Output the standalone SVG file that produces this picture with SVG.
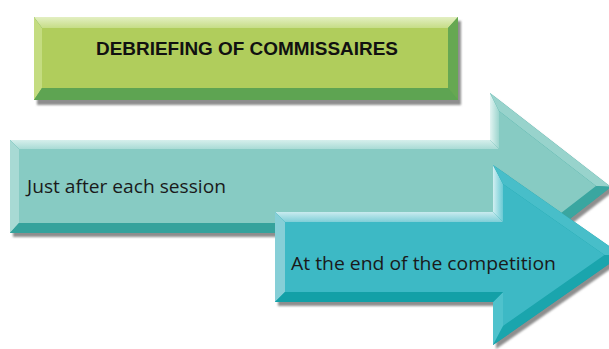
<svg xmlns="http://www.w3.org/2000/svg" width="609" height="349" viewBox="0 0 609 349">
  <defs>
    <filter id="soft" x="-5%" y="-5%" width="110%" height="110%">
      <feGaussianBlur stdDeviation="1"/>
    </filter>
    <linearGradient id="gTop" x1="0" y1="0" x2="0" y2="1">
      <stop offset="0" stop-color="#E3EFC2"/>
      <stop offset="1" stop-color="#C6DD87"/>
    </linearGradient>
    <linearGradient id="a1Top" x1="0" y1="0" x2="0" y2="1">
      <stop offset="0" stop-color="#D6EFEC"/>
      <stop offset="1" stop-color="#A9DBD5"/>
    </linearGradient>
    <linearGradient id="a1Notch" x1="0" y1="0" x2="1" y2="0">
      <stop offset="0" stop-color="#E2F4F2"/>
      <stop offset="1" stop-color="#9CD5CE"/>
    </linearGradient>
    <linearGradient id="a2Top" x1="0" y1="0" x2="0" y2="1">
      <stop offset="0" stop-color="#C9EBEF"/>
      <stop offset="1" stop-color="#7FCFD8"/>
    </linearGradient>
    <linearGradient id="a2Notch" x1="0" y1="0" x2="1" y2="0">
      <stop offset="0" stop-color="#D2EFF2"/>
      <stop offset="1" stop-color="#6ACAD4"/>
    </linearGradient>
    <style>
      .shadow { fill: #8E8E8E; }
      .title { font-family: "Liberation Sans", Arial, sans-serif; font-weight: bold; font-size: 19px; fill: #111111; }
      .label { font-family: "Open Sans", "Noto Sans", sans-serif; font-size: 19px; fill: #1A1A1A; }
    </style>
  </defs>

  <g id="node-title">
    <rect class="shadow" x="37" y="21" width="424" height="84" filter="url(#soft)"/>
    <rect x="34" y="17" width="424" height="83" fill="#5FA553"/>
    <polygon points="34,17 458,17 448,28 42,28" fill="url(#gTop)"/>
    <polygon points="34,17 42,28 42,88 34,100" fill="#C4DC80"/>
    <polygon points="458,17 458,100 448,88 448,28" fill="#66A852"/>
    <polygon points="34,100 458,100 448,88 42,88" fill="#5EA452"/>
    <rect x="42" y="28" width="406" height="60" fill="#B0CD5C"/>
    <text class="title" x="96" y="55" textLength="302" lengthAdjust="spacingAndGlyphs">DEBRIEFING OF COMMISSAIRES</text>
  </g>

  <g id="node-arrow1">
    <polygon class="shadow" points="13,144 493,144 493,97 614,191 493,285 493,237 13,237" filter="url(#soft)"/>
    <polygon points="10,140 490,140 490,93 611,187 490,281 490,233 10,233" fill="#37A39D"/>
    <polygon points="10,140 490,140 499,149 19,149" fill="url(#a1Top)"/>
    <polygon points="490,140 490,93 499,111 499,149" fill="url(#a1Notch)"/>
    <polygon points="490,93 611,187 596,186 499,111" fill="#98D3CC"/>
    <polygon points="611,187 490,281 499,261 596,186" fill="#3AA6A0"/>
    <polygon points="10,140 19,149 19,223 10,233" fill="#A8DAD4"/>
    <polygon points="10,233 490,233 499,223 19,223" fill="#35A29C"/>
    <polygon points="19,149 499,149 499,111 596,186 499,261 499,223 19,223" fill="#87CBC3"/>
    <text class="label" x="27" y="193" textLength="199" lengthAdjust="spacingAndGlyphs">Just after each session</text>
  </g>

  <g id="node-arrow2">
    <polygon class="shadow" points="278,216 496,216 496,169 625,259 496,349 496,306 278,306" filter="url(#soft)"/>
    <polygon points="275,212 493,212 493,165 622,255 493,345 493,302 275,302" fill="#15A1A8"/>
    <polygon points="275,212 493,212 503,222 285,222" fill="url(#a2Top)"/>
    <polygon points="493,212 493,165 503,184 503,222" fill="url(#a2Notch)"/>
    <polygon points="493,165 622,255 604.5,255 503,184" fill="#48BEC9"/>
    <polygon points="622,255 493,345 503,326 604.5,255" fill="#1AA5AD"/>
    <polygon points="493,345 493,302 503,292 503,326" fill="#4FC2CC"/>
    <polygon points="275,212 285,222 285,292 275,302" fill="#86CFD7"/>
    <polygon points="275,302 493,302 503,292 285,292" fill="#13A0A7"/>
    <polygon points="285,222 503,222 503,184 604.5,255 503,326 503,292 285,292" fill="#3DB9C5"/>
    <text class="label" x="291" y="270" textLength="265" lengthAdjust="spacingAndGlyphs">At the end of the competition</text>
  </g>
</svg>
